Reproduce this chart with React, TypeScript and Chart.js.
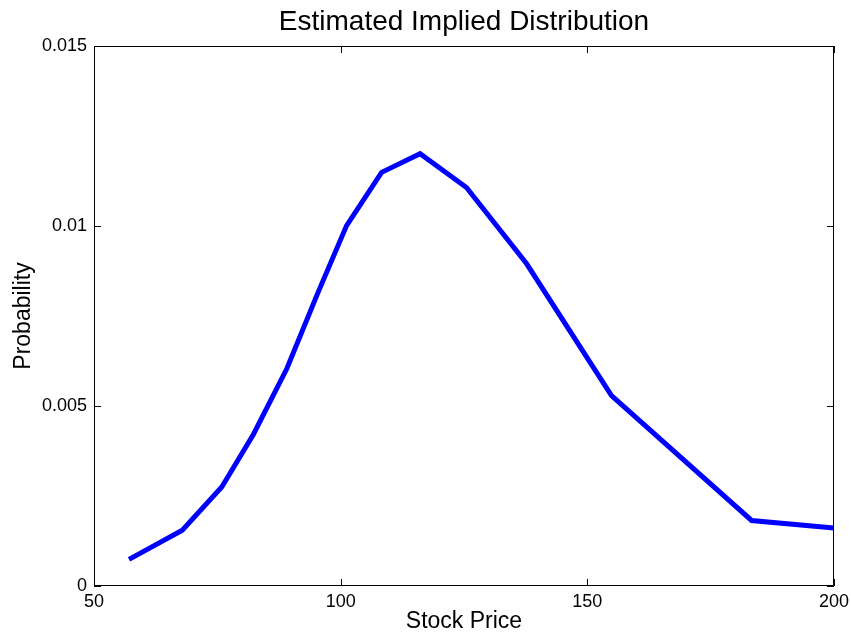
import React, { useEffect, useRef } from "react";
import { Chart, registerables } from "chart.js";

Chart.register(...registerables);

const stockPrice = [57.1, 67.9, 75.9, 82.3, 89.1, 95.4, 101.2, 108.3, 116.1, 125.5, 137.7, 154.9, 183.3, 200];
const probability = [0.00074, 0.00155, 0.00275, 0.00421, 0.00604, 0.00815, 0.01001, 0.01149, 0.01201, 0.01107, 0.00895, 0.00529, 0.00182, 0.00161];

const titleText = "Estimated Implied Distribution";
const xLabel = "Stock Price";
const yLabel = "Probability";
const FONT = "'Liberation Sans', Arial, Helvetica, sans-serif";

const framePlugin = {
  id: "matlabFrame",
  afterDatasetsDraw(chart: any) {
    const { ctx, chartArea } = chart;
    const { left, right, top, bottom } = chartArea;
    const xs = chart.scales.x;
    const ys = chart.scales.y;
    const len = 7;
    ctx.save();
    ctx.strokeStyle = "#000";
    ctx.lineWidth = 1;
    ctx.beginPath();
    ctx.rect(left + 0.5, top + 0.5, right - left - 1, bottom - top - 1);
    ctx.stroke();
    ctx.beginPath();
    xs.ticks.forEach((t: any) => {
      const px = Math.round(xs.getPixelForValue(t.value)) + 0.5;
      ctx.moveTo(px, bottom);
      ctx.lineTo(px, bottom - len);
      ctx.moveTo(px, top);
      ctx.lineTo(px, top + len);
    });
    ys.ticks.forEach((t: any) => {
      const py = Math.round(ys.getPixelForValue(t.value)) + 0.5;
      ctx.moveTo(left, py);
      ctx.lineTo(left + len, py);
      ctx.moveTo(right, py);
      ctx.lineTo(right - len, py);
    });
    ctx.stroke();
    // title centred over the plot area
    ctx.fillStyle = "#000";
    ctx.font = `28px ${FONT}`;
    ctx.textAlign = "center";
    ctx.textBaseline = "alphabetic";
    ctx.fillText(titleText, (left + right) / 2, 30);
    ctx.restore();
  },
};

export default function App() {
  const ref = useRef<HTMLCanvasElement>(null);
  useEffect(() => {
    if (!ref.current) return;
    const chart = new Chart(ref.current, {
      type: "line",
      data: {
        datasets: [
          {
            data: stockPrice.map((x, i) => ({ x, y: probability[i] })),
            borderColor: "#0000ff",
            backgroundColor: "#0000ff",
            borderWidth: 5,
            pointRadius: 0,
            tension: 0,
            fill: false,
          },
        ],
      },
      options: {
        responsive: false,
        animation: false,
        devicePixelRatio: 1,
        layout: { padding: { left: 0, right: 17, top: 46, bottom: 0 } },
        plugins: {
          legend: { display: false },
          tooltip: { enabled: false },
          title: { display: false },
        },
        scales: {
          x: {
            type: "linear",
            min: 50,
            max: 200,
            ticks: { stepSize: 50, color: "#000", font: { family: FONT, size: 18 }, padding: 5, maxRotation: 0 },
            grid: { display: false, drawTicks: false },
            border: { display: false },
            title: {
              display: true,
              text: xLabel,
              color: "#000",
              font: { family: FONT, size: 23 },
              padding: { top: 0, bottom: 2 },
            },
            afterFit: (s: any) => {
              s.height = 51;
              s.paddingLeft = 0;
              s.paddingRight = 0;
            },
          },
          y: {
            type: "linear",
            min: 0,
            max: 0.015,
            ticks: {
              stepSize: 0.005,
              color: "#000",
              font: { family: FONT, size: 18 },
              padding: 7,
              callback: (v: any) => Number(Number(v).toFixed(3)).toString(),
            },
            grid: { display: false, drawTicks: false },
            border: { display: false },
            title: {
              display: true,
              text: yLabel,
              color: "#000",
              font: { family: FONT, size: 23 },
              padding: { top: 10, bottom: 0 },
            },
            afterFit: (s: any) => {
              s.width = 94;
              s.paddingTop = 0;
              s.paddingBottom = 0;
            },
          },
        },
      },
      plugins: [framePlugin],
    });
    return () => chart.destroy();
  }, []);
  return (
    <div style={{ position: "absolute", left: 0, top: 0, width: 851, height: 637, background: "#fff" }}>
      <canvas ref={ref} width={851} height={637} />
    </div>
  );
}
